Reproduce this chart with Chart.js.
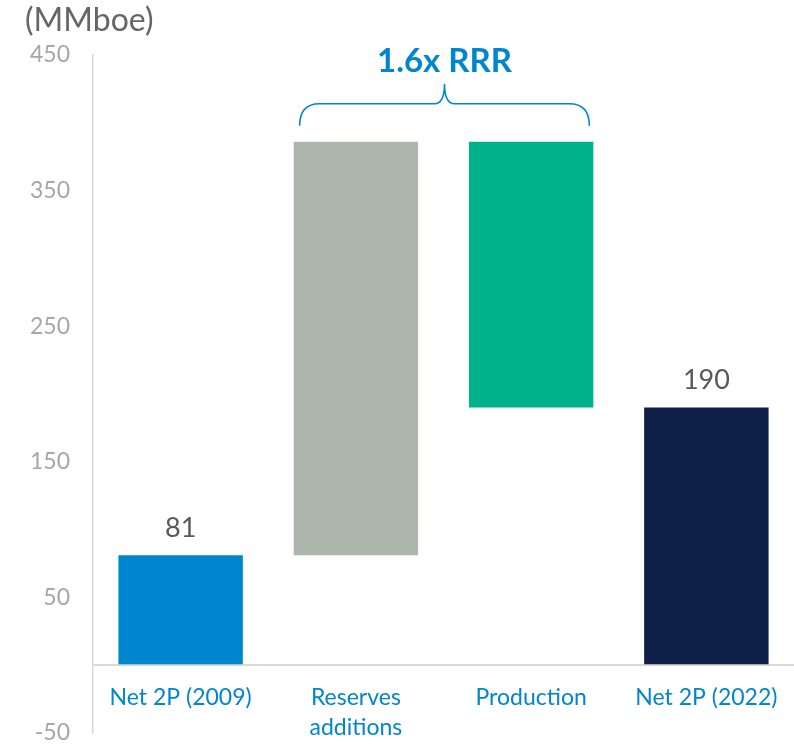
<!DOCTYPE html>
<html>
<head>
<meta charset="utf-8">
<script src="https://cdn.jsdelivr.net/npm/chart.js@4"></script>
<style>
  html, body { margin: 0; padding: 0; background: #fff; overflow: hidden; }
  canvas { display: block; }
</style>
</head>
<body>
<canvas id="myChart" width="794" height="745"></canvas>
<script>
// chart values
var categories = ["Net 2P (2009)", "Reserves additions", "Production", "Net 2P (2022)"];
var barStart = [0, 81, 190, 0];
var barEnd = [81, 386, 386, 190];
var barColors = ["#0085CF", "#ADB6AB", "#00B189", "#0E1F48"];
var valueLabels = ["81", "", "", "190"];
var yTicks = [-50, 50, 150, 250, 350, 450];
var unitLabel = "(MMboe)";
var rrrLabel = "1.6x RRR";

var FONT = "Lato, 'Open Sans', sans-serif";
var BLUE = "#0085CF";

var ranges = [];
for (var i = 0; i < categories.length; i++) {
    ranges.push([barStart[i], barEnd[i]]);
}

var extras = {
    id: "extras",
    afterDraw: function(chart) {
        var ctx = chart.ctx;
        var x = chart.scales.x;
        var y = chart.scales.y;
        var meta = chart.getDatasetMeta(0);
        ctx.save();

        // unit label
        ctx.fillStyle = "#666666";
        ctx.font = "32px " + FONT;
        ctx.textAlign = "left";
        ctx.textBaseline = "middle";
        ctx.fillText(unitLabel, 25, 21);

        // category labels, below the zero line
        ctx.fillStyle = BLUE;
        ctx.font = "23px " + FONT;
        ctx.textAlign = "center";
        var y0 = y.getPixelForValue(0);
        categories.forEach(function(c, i) {
            var cx = x.getPixelForValue(i);
            var words = c === "Reserves additions" ? ["Reserves", "additions"] : [c];
            words.forEach(function(w, k) {
                ctx.fillText(w, cx, y0 + 32 + k * 30);
            });
        });

        // value labels
        ctx.fillStyle = "#595959";
        ctx.font = "27px " + FONT;
        ctx.textBaseline = "middle";
        valueLabels.forEach(function(v, i) {
            if (!v) return;
            var bar = meta.data[i];
            ctx.fillText(v, bar.x, y.getPixelForValue(barEnd[i]) - 27);
        });

        // brace over reserves additions + production
        var b1 = meta.data[1], b2 = meta.data[2];
        var left = b1.x - b1.width / 2 + 6;
        var right = b2.x + b2.width / 2 - 4;
        var mid = (left + right) / 2;
        var top = y.getPixelForValue(barEnd[1]) - 16;
        var lineY = top - 22;
        var r = 10;
        ctx.strokeStyle = BLUE;
        ctx.lineWidth = 1.6;
        ctx.beginPath();
        ctx.moveTo(left, top);
        ctx.quadraticCurveTo(left, lineY, left + r * 2, lineY);
        ctx.lineTo(mid - r, lineY);
        ctx.quadraticCurveTo(mid, lineY, mid, lineY - r * 2);
        ctx.quadraticCurveTo(mid, lineY, mid + r, lineY);
        ctx.lineTo(right - r * 2, lineY);
        ctx.quadraticCurveTo(right, lineY, right, top);
        ctx.stroke();

        ctx.fillStyle = BLUE;
        ctx.font = "bold 33px " + FONT;
        ctx.textAlign = "center";
        ctx.textBaseline = "middle";
        ctx.fillText(rrrLabel, mid, lineY - 42);
        ctx.restore();
    }
};

var myChart = document.getElementById("myChart").getContext("2d");
var chart = new Chart(myChart, {
    type: "bar",
    data: {
        labels: categories,
        datasets: [
            {
                data: ranges,
                backgroundColor: barColors,
                categoryPercentage: 1,
                barPercentage: 0.71
            }
        ]
    },
    options: {
        responsive: false,
        animation: false,
        layout: { padding: { top: 55, bottom: 12, left: 0, right: 0 } },
        plugins: {
            legend: { display: false },
            tooltip: { enabled: false }
        },
        scales: {
            x: {
                display: false
            },
            y: {
                min: -50,
                max: 450,
                afterBuildTicks: function(scale) {
                    scale.ticks = yTicks.concat([0]).map(function(v) { return { value: v }; });
                },
                afterFit: function(scale) {
                    scale.width = 93;
                    scale.paddingTop = 0;
                    scale.paddingBottom = 0;
                },
                ticks: {
                    padding: 23,
                    color: "#A6A6A6",
                    font: { family: FONT, size: 23 },
                    callback: function(v) { return v === 0 ? "" : v; }
                },
                grid: {
                    drawTicks: false,
                    lineWidth: 2,
                    color: function(c) { return c.tick && c.tick.value === 0 ? "#D9D9D9" : "rgba(0,0,0,0)"; }
                },
                border: { color: "#D9D9D9", width: 1.5 }
            }
        }
    },
    plugins: [extras]
});
</script>
</body>
</html>
